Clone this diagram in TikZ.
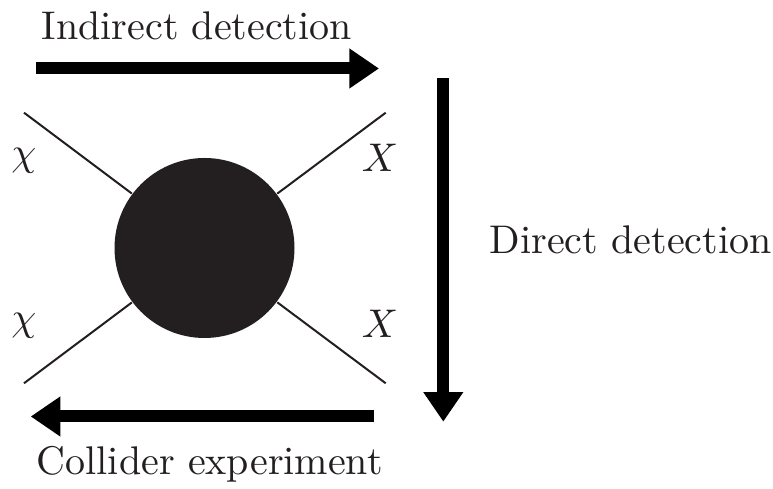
\documentclass[tikz,border=0pt]{standalone}
\usetikzlibrary{arrows.meta}
\definecolor{ink}{HTML}{231F20}
\begin{document}
\begin{tikzpicture}[x=0.25pt,y=-0.25pt,
  bigarrow/.style={line width=3pt,black,-{Triangle[length=7.4pt,width=9.5pt]}},
  leg/.style={line width=0.5pt,ink},
  lbl/.style={inner sep=0pt,text=ink,font=\fontsize{10}{12}\selectfont},
  blobstyle/.style={circle,fill=ink,inner sep=0pt,minimum size=45pt}]
\useasboundingbox (0,0) rectangle (773,489);
% blob and legs
\node[blobstyle] (blob) at (204.5,248) {};
\coordinate (tl) at (24,112.7);
\coordinate (tr) at (385.7,112.7);
\coordinate (bl) at (24,383.3);
\coordinate (br) at (385.7,383.3);
\draw[leg] (tl) -- (blob);
\draw[leg] (tr) -- (blob);
\draw[leg] (bl) -- (blob);
\draw[leg] (br) -- (blob);
% particle labels
\node[lbl,anchor=base] (chi1) at (24,165.7) {$\chi$};
\node[lbl,anchor=base] (chi2) at (24,330.7) {$\chi$};
\node[lbl,anchor=base] (X1) at (380,171.7) {$X$};
\node[lbl,anchor=base] (X2) at (380,337.5) {$X$};
% arrows
\coordinate (ia1) at (36,68.5);
\coordinate (ia2) at (379,68.5);
\draw[bigarrow] (ia1) -- (ia2);
\coordinate (da1) at (443.3,78.3);
\coordinate (da2) at (443.3,421.7);
\draw[bigarrow] (da1) -- (da2);
\coordinate (ca1) at (374,416.5);
\coordinate (ca2) at (30.7,416.5);
\draw[bigarrow] (ca1) -- (ca2);
% captions
\node[lbl,anchor=base west] (ind) at (41,39.3) {Indirect detection};
\node[lbl,anchor=base west] (dir) at (489,253.3) {Direct detection};
\node[lbl,anchor=base west] (col) at (36,475) {Collider experiment};
\end{tikzpicture}
\end{document}
